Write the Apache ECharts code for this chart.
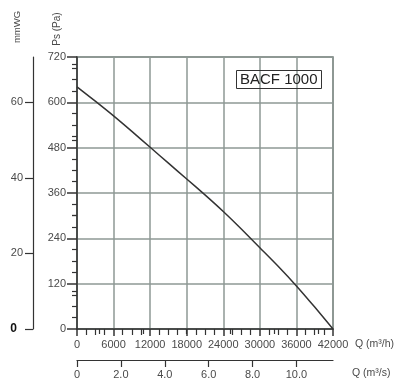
<!DOCTYPE html>
<html>
<head>
<meta charset="utf-8">
<script src="https://cdn.jsdelivr.net/npm/echarts@6/dist/echarts.min.js"></script>
<style>
html,body{margin:0;padding:0;background:#fff;}
#chart{width:400px;height:392px;}
</style>
</head>
<body>
<div id="chart"></div>
<script>
// Fan curve BACF 1000: airflow Q (m³/h) vs static pressure Ps (Pa)
const flowM3h    = [0, 3000, 6000, 9000, 12000, 15000, 18000, 21000, 24000, 27000, 30000, 33000, 36000, 39000, 42000];
const pressurePa = [641, 603, 564, 523, 481, 439, 397, 355, 311, 264, 215, 166, 114, 58, 0];

// axis tick / label values
const mmwgMajor = [0, 20, 40, 60];
const mmwgMinor = [10, 30, 50, 70];
const qsMajor = [0, 2, 4, 6, 8, 10];
const qsMinor = [1, 3, 5, 7, 9, 11];

const FONT = 'Liberation Sans, Arial, sans-serif';
const LABEL = '#4a4a4a';
const AXIS = '#333';
const GRIDC = '#8e9995';

const chart = echarts.init(document.getElementById('chart'), null, {renderer: 'canvas'});

const data = flowM3h.map((q, i) => [q, pressurePa[i]]);

chart.setOption({
  animation: false,
  textStyle: {fontFamily: FONT},
  title: {
    text: 'BACF 1000',
    left: 236, top: 70,
    padding: [2, 4, 2, 4],
    borderColor: '#333', borderWidth: 1,
    textStyle: {fontSize: 15, fontWeight: 'normal', color: '#222', fontFamily: FONT, lineHeight: 15}
  },
  grid: {
    left: 77, top: 57, width: 256, height: 272,
    show: true, borderColor: '#6d7573', borderWidth: 1.5, backgroundColor: 'transparent'
  },
  xAxis: [
    {
      type: 'value', min: 0, max: 42000, interval: 6000, position: 'bottom',
      name: 'Q (m³/h)', nameLocation: 'end', nameGap: 22,
      nameTextStyle: {color: LABEL, fontSize: 10.5, verticalAlign: 'top', padding: [10, 0, 0, 0]},
      axisLine: {show: true, onZero: false, lineStyle: {color: AXIS, width: 1.5}},
      axisTick: {show: true, length: 7, lineStyle: {color: AXIS, width: 1.5}},
      minorTick: {show: true, splitNumber: 4, length: 6, lineStyle: {color: AXIS, width: 1.2}},
      axisLabel: {color: LABEL, fontSize: 11, margin: 10, formatter: v => String(v)},
      splitLine: {show: true, lineStyle: {color: GRIDC, width: 1.5}}
    },
    {
      type: 'value', min: 0, max: 42000 / 3600, position: 'bottom', offset: 31,
      name: 'Q (m³/s)', nameLocation: 'end', nameGap: 19,
      nameTextStyle: {color: LABEL, fontSize: 10.5, verticalAlign: 'top', padding: [8, 0, 0, 0]},
      axisLine: {show: true, onZero: false, lineStyle: {color: AXIS, width: 1.2}},
      axisTick: {show: true, inside: false, length: 7, customValues: qsMajor, lineStyle: {color: AXIS, width: 1.2}},
      axisLabel: {color: LABEL, fontSize: 11, margin: 9, customValues: qsMajor,
        formatter: v => v === 0 ? '0' : v.toFixed(1)},
      splitLine: {show: false}
    },
    {
      type: 'value', min: 0, max: 42000 / 3600, position: 'bottom', offset: 31,
      axisLine: {show: false},
      axisTick: {show: true, length: 5, customValues: qsMinor, lineStyle: {color: AXIS, width: 1.2}},
      axisLabel: {show: false},
      splitLine: {show: false}
    }
  ],
  yAxis: [
    {
      type: 'value', min: 0, max: 720, interval: 120, position: 'left',
      axisLine: {show: true, onZero: false, lineStyle: {color: AXIS, width: 1.5}},
      axisTick: {show: true, length: 10, lineStyle: {color: AXIS, width: 1.5}},
      minorTick: {show: true, splitNumber: 4, length: 5, lineStyle: {color: AXIS, width: 1.2}},
      axisLabel: {color: LABEL, fontSize: 11, margin: 11, formatter: v => String(v)},
      splitLine: {show: true, lineStyle: {color: GRIDC, width: 1.5}}
    },
    {
      type: 'value', min: 0, max: 72, position: 'left', offset: 44,
      axisLine: {show: true, onZero: false, lineStyle: {color: AXIS, width: 1.2}},
      axisTick: {show: true, length: 8, customValues: mmwgMajor, lineStyle: {color: AXIS, width: 1.2}},
      axisLabel: {color: LABEL, fontSize: 11, margin: 10, customValues: mmwgMajor,
        formatter: v => v === 0 ? '{z|0}' : String(v),
        rich: {z: {fontWeight: 'bold', fontSize: 12, color: '#111', padding: [0, 6, 0, 0]}}},
      splitLine: {show: false}
    },
    {
      type: 'value', min: 0, max: 72, position: 'left', offset: 44,
      axisLine: {show: false},
      axisTick: {show: true, length: 5, customValues: mmwgMinor, lineStyle: {color: AXIS, width: 1.2}},
      axisLabel: {show: false},
      splitLine: {show: false}
    }
  ],
  graphic: [
    {type: 'text', x: 17, y: 27, rotation: Math.PI / 2,
      style: {text: 'mmWG', fontSize: 9.5, fill: LABEL, fontFamily: FONT, align: 'center', verticalAlign: 'middle'}},
    {type: 'text', x: 57, y: 29, rotation: Math.PI / 2,
      style: {text: 'Ps (Pa)', fontSize: 10, fill: LABEL, fontFamily: FONT, align: 'center', verticalAlign: 'middle'}}
  ],
  series: [
    {
      type: 'line', xAxisIndex: 0, yAxisIndex: 0,
      data: data, smooth: 0.2, showSymbol: false, symbol: 'none',
      lineStyle: {color: '#333', width: 1.5},
      z: 5
    }
  ]
});
</script>
</body>
</html>
